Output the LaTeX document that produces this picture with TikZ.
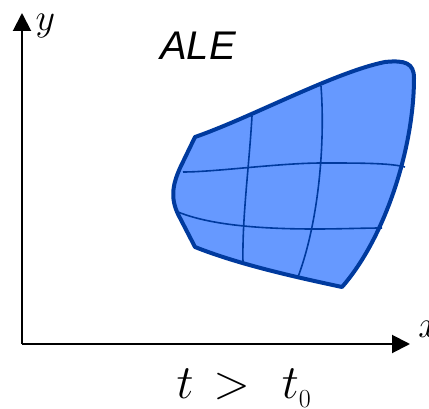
\RequirePackage{fix-cm}
\documentclass[tikz,border=0pt]{standalone}
\usepackage{fontspec}
\usepackage{amsmath}
\newfontfamily\alefont{Liberation Sans}
\usetikzlibrary{arrows.meta}
\definecolor{aleblue}{HTML}{6699FF}
\definecolor{aledark}{HTML}{003A9E}

\begin{document}
\begin{tikzpicture}[x=1pt, y=1pt, >={Triangle[length=18pt, width=18pt]}, line width=2pt]

\useasboundingbox (0,0) rectangle (429,408);

% Axes
\coordinate (O) at (22,64);
\coordinate (ytip) at (22,395);
\coordinate (xtip) at (410,64);
\draw[->] (O) -- (ytip);
\draw[->] (O) -- (xtip);
\node[inner sep=0pt, font=\fontsize{38}{38}\selectfont] (ylab) at (45.5,382) {$y$};
\node[inner sep=0pt, font=\fontsize{38}{38}\selectfont] (xlab) at (429,79) {$x$};

% Deformed domain
\fill[aleblue] (195,271) .. controls (250,290) and (335,336) .. (385,346)
  .. controls (405,348) and (414,345) .. (414,330)
  .. controls (414,260) and (385,170) .. (342,121)
  .. controls (300,130) and (240,143) .. (195,161)
  -- (180,190) .. controls (170,208) and (172,222) .. (180,240) -- cycle;

% Mesh lines
\draw[aledark, line width=1.6pt] (183,236) .. controls (215,236) and (280,245) .. (322,245)
  .. controls (360,245) and (390,245) .. (405,241);
\draw[aledark, line width=1.6pt] (178,196) .. controls (210,183) and (260,179) .. (315,179)
  .. controls (340,179) and (365,180) .. (382,180);
\draw[aledark, line width=1.6pt] (252,292) .. controls (249,240) and (242,190) .. (243,145);
\draw[aledark, line width=1.6pt] (321,322) .. controls (325,270) and (320,190) .. (298,131);

% Outline
\draw[aledark, line width=4pt, line join=round] (195,271) .. controls (250,290) and (335,336) .. (385,346)
  .. controls (405,348) and (414,345) .. (414,330)
  .. controls (414,260) and (385,170) .. (342,121)
  .. controls (300,130) and (240,143) .. (195,161)
  -- (180,190) .. controls (170,208) and (172,222) .. (180,240) -- cycle;

% Labels
\node[anchor=base, inner sep=0pt, font=\alefont\itshape\fontsize{40}{40}\selectfont] (ale) at (198,348) {ALE};
\node[anchor=base, inner sep=0pt, font=\fontsize{48}{48}\selectfont] (time) at (244,10)
  {$t \mskip2.4mu > \mskip7mu t_{\raisebox{-2pt}{\fontsize{26}{26}\selectfont 0}}$};

\end{tikzpicture}
\end{document}
